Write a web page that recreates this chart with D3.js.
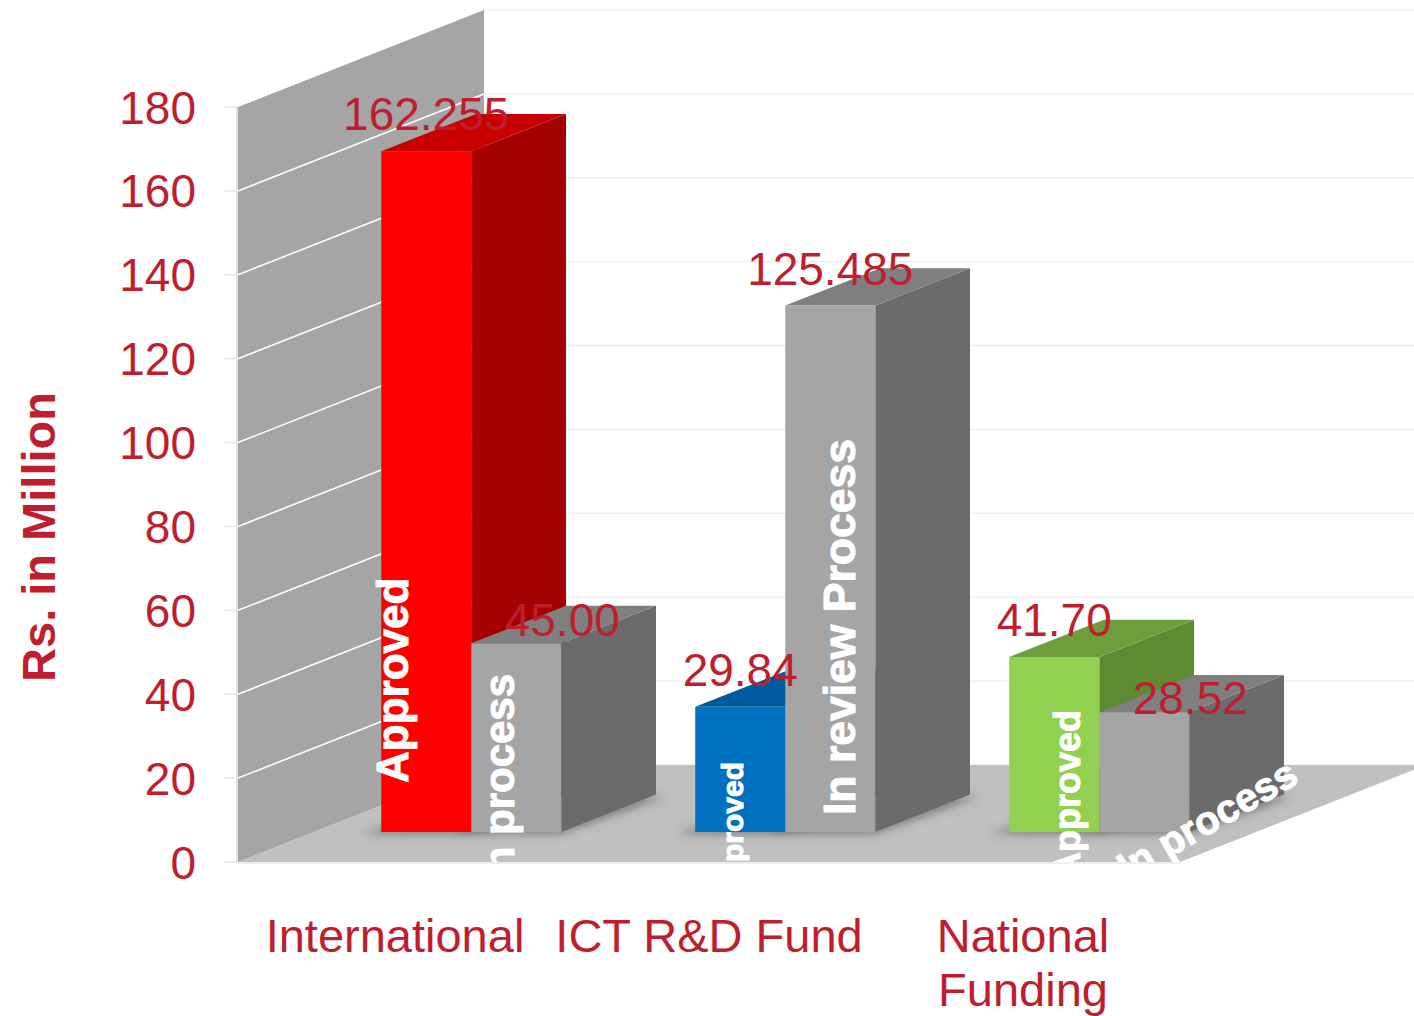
<!DOCTYPE html>
<html>
<head>
<meta charset="utf-8">
<script src="https://cdn.jsdelivr.net/npm/d3@7"></script>
<style>
  html, body { margin: 0; padding: 0; background: #fff; }
  svg { display: block; }
  text { font-family: "Liberation Sans", Arial, sans-serif; }
</style>
</head>
<body>
<div id="chart"></div>
<script>
// data
const categories = ['International', 'ICT R&D Fund', 'National Funding'];
const seriesNames = ['Approved', 'In process'];
const approved = [162.255, 29.84, 41.70];
const inProcess = [45.00, 125.485, 28.52];
const approvedLabels = ['162.255', '29.84', '41.70'];
const inProcessLabels = ['45.00', '125.485', '28.52'];
const tagTexts = [['Approved', 'In process'], ['Approved', 'In review Process'], ['Approved', 'In process']];
const yTickValues = [0, 20, 40, 60, 80, 100, 120, 140, 160, 180];

const width = 1414;
const height = 1016;
const red = '#BE1E2D';

// oblique depth vector of the floor/wall
const depth = { dx: 246, dy: -97 };
const barZ = [0.31, 0.695]; // bar front/back as fraction of depth

const svg = d3.select('#chart').append('svg')
  .attr('width', width)
  .attr('height', height);

const defs = svg.append('defs');
defs.append('filter').attr('id', 'soft')
  .attr('x', '-20%').attr('y', '-50%').attr('width', '140%').attr('height', '200%')
  .append('feGaussianBlur').attr('stdDeviation', 5);
defs.append('clipPath').attr('id', 'plotClip')
  .append('rect').attr('x', 0).attr('y', 0).attr('width', width).attr('height', 862);

const y = d3.scaleLinear().domain([0, 180]).range([862, 107]);
const x0 = d3.scaleBand().domain(categories).range([238, 1180]);
const x1 = d3.scaleBand().domain(seriesNames).range([0, x0.bandwidth()])
  .paddingInner(0).paddingOuter(0.744);

// project (front-plane x, value, depth fraction) to screen
const P = (x, v, z) => [x + z * depth.dx, y(v) + z * depth.dy];
const poly = pts => 'M' + pts.map(p => p.join(',')).join('L') + 'Z';

const floorRight = x0.range()[1];

// back wall gridlines
svg.append('g').selectAll('line')
  .data(yTickValues)
  .join('line')
  .attr('x1', P(238, 0, 1)[0]).attr('x2', width)
  .attr('y1', d => P(0, d, 1)[1]).attr('y2', d => P(0, d, 1)[1])
  .attr('stroke', '#efefef').attr('stroke-width', 1.5);

// left wall
svg.append('path')
  .attr('d', poly([P(238, 0, 0), P(238, 180, 0), P(238, 180, 1), P(238, 0, 1)]))
  .attr('fill', '#a5a5a5');

svg.append('g').selectAll('line')
  .data(yTickValues.filter(d => d > 0 && d < 180))
  .join('line')
  .attr('x1', d => P(238, d, 0)[0]).attr('y1', d => P(238, d, 0)[1])
  .attr('x2', d => P(238, d, 1)[0]).attr('y2', d => P(238, d, 1)[1])
  .attr('stroke', '#fff').attr('stroke-width', 1.6);

// floor
svg.append('path')
  .attr('d', poly([P(238, 0, 0), P(floorRight, 0, 0), P(floorRight, 0, 1), P(238, 0, 1)]))
  .attr('fill', '#c0c0c0');

// axis edge and small ticks
svg.append('line')
  .attr('x1', 237).attr('x2', 237).attr('y1', y(180)).attr('y2', y(0))
  .attr('stroke', '#d9d9d9').attr('stroke-width', 1.5);
svg.append('g').selectAll('line')
  .data(yTickValues)
  .join('line')
  .attr('x1', 224).attr('x2', 237)
  .attr('y1', d => y(d)).attr('y2', d => y(d))
  .attr('stroke', '#e6e6e6').attr('stroke-width', 1.5);
svg.append('line')
  .attr('x1', 238).attr('x2', floorRight).attr('y1', 863).attr('y2', 863)
  .attr('stroke', '#eeeeee').attr('stroke-width', 2);

// bar colours: [front, top, side]
const colors = {
  International: [['#ff0000', '#c80000', '#a50000'], ['#a5a5a6', '#7f7f80', '#6a6b6a']],
  'ICT R&D Fund': [['#0070c0', '#005a9e', '#00508c'], ['#a5a5a6', '#7f7f80', '#6a6b6a']],
  'National Funding': [['#92d050', '#6e9e3c', '#5e8a32'], ['#a5a5a6', '#7f7f80', '#6a6b6a']]
};

const bars = [];
categories.forEach((c, i) => {
  [approved[i], inProcess[i]].forEach((v, s) => {
    bars.push({
      cat: c, ci: i, s, value: v,
      label: s === 0 ? approvedLabels[i] : inProcessLabels[i],
      tag: tagTexts[i][s],
      x: x0(c) + x1(seriesNames[s]),
      w: x1.bandwidth()
    });
  });
});

// soft shadows under bars
svg.append('g').attr('filter', 'url(#soft)')
  .selectAll('path')
  .data(bars)
  .join('path')
  .attr('d', d => poly([
    P(d.x - 14, 0, barZ[0] - 0.02), P(d.x + d.w + 4, 0, barZ[0] - 0.02),
    P(d.x + d.w + 14, 0, barZ[1] - 0.02), P(d.x + 10, 0, barZ[1] - 0.02)]))
  .attr('fill', '#444').attr('opacity', 0.55);

const barG = svg.append('g').selectAll('g')
  .data(bars)
  .join('g');

// side
barG.append('path')
  .attr('d', d => poly([P(d.x + d.w, 0, barZ[0]), P(d.x + d.w, d.value, barZ[0]),
    P(d.x + d.w, d.value, barZ[1]), P(d.x + d.w, 0, barZ[1])]))
  .attr('fill', d => colors[d.cat][d.s][2]);
// top
barG.append('path')
  .attr('d', d => poly([P(d.x, d.value, barZ[0]), P(d.x + d.w, d.value, barZ[0]),
    P(d.x + d.w, d.value, barZ[1]), P(d.x, d.value, barZ[1])]))
  .attr('fill', d => colors[d.cat][d.s][1]);
// front
barG.append('path')
  .attr('d', d => poly([P(d.x, 0, barZ[0]), P(d.x + d.w, 0, barZ[0]),
    P(d.x + d.w, d.value, barZ[0]), P(d.x, d.value, barZ[0])]))
  .attr('fill', d => colors[d.cat][d.s][0]);

// value labels (in-process labels of first and last group were nudged on the slide)
const labelNudge = [[[0, 0], [46, 14]], [[0, 0], [0, 0]], [[0, 0], [46, 23]]];
svg.append('g').selectAll('text')
  .data(bars)
  .join('text')
  .attr('x', d => P(d.x + d.w / 2, d.value, barZ[0])[0] + labelNudge[d.ci][d.s][0])
  .attr('y', d => P(d.x + d.w / 2, d.value, barZ[0])[1] - 21 + labelNudge[d.ci][d.s][1])
  .attr('text-anchor', 'middle')
  .attr('font-size', 46)
  .attr('fill', red)
  .text(d => d.label);

// white text boxes laid over the bars: baseline x offset, start y, size
const tagPlace = [[[27, 783, 44], [43, 884, 42]], [[48, 902, 30], [70, 815, 44.5]], [[71, 878, 36], null]];
const tagG = svg.append('g').attr('clip-path', 'url(#plotClip)');
tagG.selectAll('text')
  .data(bars.filter(d => tagPlace[d.ci][d.s]))
  .join('text')
  .attr('transform', d => {
    const t = tagPlace[d.ci][d.s];
    return `translate(${P(d.x, 0, barZ[0])[0] + t[0]},${t[1]}) rotate(-90)`;
  })
  .attr('font-size', d => tagPlace[d.ci][d.s][2])
  .attr('font-weight', 'bold')
  .attr('fill', '#fff')
  .attr('stroke', '#fff').attr('stroke-width', 1)
  .text(d => d.tag);

// the last "In process" box lies on the floor
const lastBar = bars[bars.length - 1];
tagG.append('text')
  .attr('transform', `translate(${P(lastBar.x, 0, barZ[0])[0] + 28},882) rotate(-30)`)
  .attr('font-size', 40)
  .attr('font-weight', 'bold')
  .attr('fill', '#fff')
  .attr('stroke', '#fff').attr('stroke-width', 1)
  .text(lastBar.tag);

// y tick labels
svg.append('g').selectAll('text')
  .data(yTickValues)
  .join('text')
  .attr('x', 196)
  .attr('y', d => y(d))
  .attr('dy', '0.36em')
  .attr('text-anchor', 'end')
  .attr('font-size', 46)
  .attr('fill', red)
  .text(d => d);

// axis title
svg.append('text')
  .attr('transform', 'translate(55,537) rotate(-90)')
  .attr('text-anchor', 'middle')
  .attr('font-size', 47)
  .attr('font-weight', 'bold')
  .attr('fill', red)
  .text('Rs. in Million');

// category labels
const catG = svg.append('g').selectAll('text')
  .data(categories)
  .join('text')
  .attr('x', d => x0(d) + x0.bandwidth() / 2)
  .attr('y', 952)
  .attr('text-anchor', 'middle')
  .attr('font-size', 47)
  .attr('fill', red);
catG.selectAll('tspan')
  .data(d => d === 'National Funding' ? ['National', 'Funding'] : [d])
  .join('tspan')
  .attr('x', function () { return d3.select(this.parentNode).attr('x'); })
  .attr('dy', (d, i) => i === 0 ? 0 : 54)
  .text(d => d);
</script>
</body>
</html>
